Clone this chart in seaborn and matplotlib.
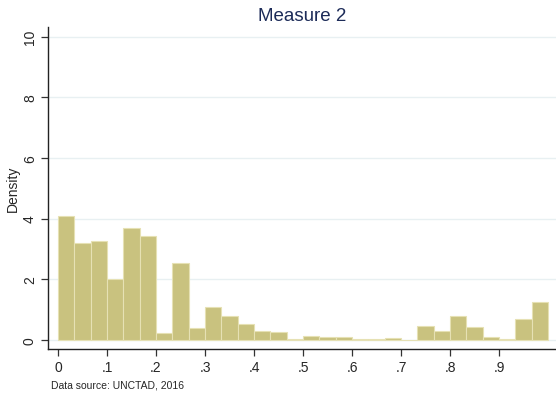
import numpy as np
import pandas as pd
import matplotlib
matplotlib.use('Agg')
import matplotlib.pyplot as plt
import seaborn as sns

# 30 equal-width bins over [0, 1]; bar heights are densities
bin_edges = np.linspace(0, 1, 31)
density = [4.10, 3.21, 3.25, 2.00, 3.69, 3.44, 0.23, 2.53, 0.38, 1.07,
           0.78, 0.54, 0.29, 0.25, 0.03, 0.14, 0.08, 0.08, 0.04, 0.02,
           0.06, 0.00, 0.45, 0.30, 0.78, 0.42, 0.09, 0.02, 0.68, 1.25]
x_ticks = [0, .1, .2, .3, .4, .5, .6, .7, .8, .9]
x_labels = ['0', '.1', '.2', '.3', '.4', '.5', '.6', '.7', '.8', '.9']
y_ticks = [0, 2, 4, 6, 8, 10]

sns.set_style('white')
plt.rcParams['font.family'] = ['Liberation Sans', 'DejaVu Sans']

df = pd.DataFrame({'mid': (bin_edges[:-1] + bin_edges[1:]) / 2,
                   'density': density})

fig = plt.figure(figsize=(5.56, 4.02), dpi=100)
ax = fig.add_axes([48 / 556, 52 / 402, 508 / 556, 322 / 402])

sns.histplot(data=df, x='mid', weights='density', bins=list(bin_edges),
             stat='count', color='#c9c27f', edgecolor='#e6e1b4',
             linewidth=0.8, alpha=1, ax=ax, zorder=2)

ax.set_xlim(-0.0204, 1.0163)
ax.set_ylim(-0.30, 10.32)
ax.set_xticks(x_ticks)
ax.set_xticklabels(x_labels)
ax.set_yticks(y_ticks)
ax.set_yticklabels([str(v) for v in y_ticks], rotation=90, va='center')
ax.tick_params(axis='both', direction='out', length=5, width=0.9,
               color='#333333', labelsize=10, pad=3, left=True, bottom=True)
ax.yaxis.grid(True, color='#e8f0f2', linewidth=1, zorder=0)
ax.xaxis.grid(False)
ax.set_axisbelow(True)

for side in ['top', 'right']:
    ax.spines[side].set_visible(False)
for side in ['left', 'bottom']:
    ax.spines[side].set_color('#222222')
    ax.spines[side].set_linewidth(1)

ax.set_xlabel('')
ax.set_ylabel('Density', fontsize=10, labelpad=2)
ax.set_title('Measure 2', fontsize=13.5, color='#1c2b58', pad=5)

fig.text(51 / 556, 1 - 386 / 402, 'Data source: UNCTAD, 2016',
         fontsize=7.5, va='center', ha='left')

fig.savefig('out.png', dpi=100, facecolor='white')
